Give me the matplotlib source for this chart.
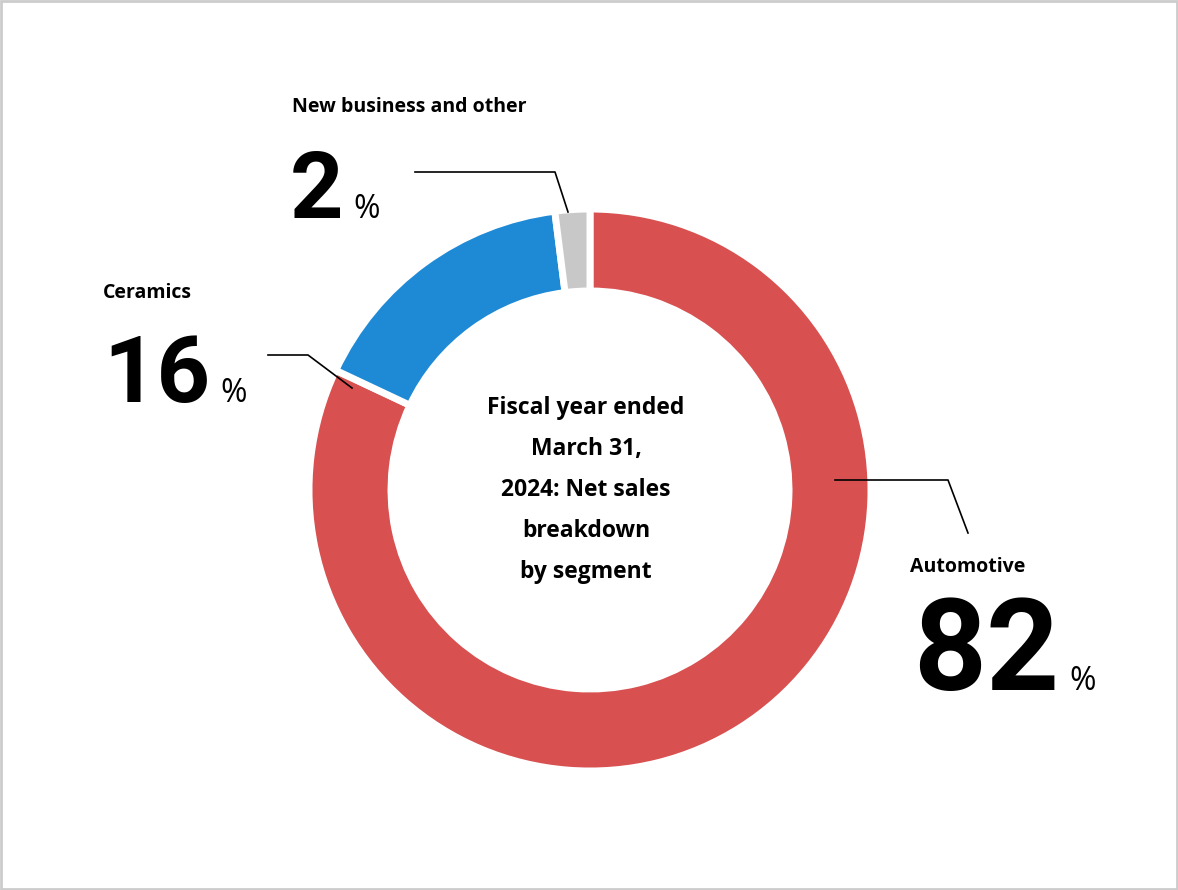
import matplotlib
matplotlib.use("Agg")
import matplotlib.pyplot as plt
from matplotlib.patches import Rectangle

segments = ["Automotive", "Ceramics", "New business and other"]
shares = [82, 16, 2]
colors = ["#d85050", "#1e8ad6", "#c8c8c8"]

W, H = 1178, 890
fig = plt.figure(figsize=(W/100, H/100), dpi=100)
ax = fig.add_axes([0, 0, 1, 1])
ax.set_xlim(0, W); ax.set_ylim(0, H); ax.set_aspect("equal"); ax.axis("off")
Y = lambda y: H - y

ax.pie(shares, colors=colors, startangle=90, counterclock=False, center=(590, Y(490)),
       radius=281, wedgeprops=dict(width=82, edgecolor="white", linewidth=5))
ax.set_xlim(0, W); ax.set_ylim(0, H)
ax.add_patch(Rectangle((1, 1), W-2, H-2, fill=False, edgecolor="#cccccc", lw=2))

fam = ["Open Sans", "DejaVu Sans"]
ax.text(586, Y(490), "Fiscal year ended\nMarch 31,\n2024: Net sales\nbreakdown\nby segment",
        ha="center", va="center", fontsize=16.5, fontweight="bold", family=fam, linespacing=1.95)

lines = [[(835, 480), (948, 480), (968, 533)],
         [(268, 355), (308, 355), (352, 388)],
         [(415, 172), (555, 172), (568, 212)]]
for pts in lines:
    ax.plot([p[0] for p in pts], [Y(p[1]) for p in pts], color="black", lw=1.2)

labels = [(segments[0], shares[0], 910, 567, 913, 690, 112),
          (segments[1], shares[1], 103, 293, 103, 402, 82),
          (segments[2], shares[2], 292, 107, 290, 218, 82)]
for name, val, lx, ly, nx, ny, fs in labels:
    ax.text(lx, Y(ly), name, ha="left", va="center", fontsize=14, fontweight="bold", family=fam)
    t = ax.text(nx, Y(ny), str(val), ha="left", va="baseline", fontsize=fs*0.82,
                fontweight="bold", family="Roboto")
    fig.canvas.draw()
    bb = t.get_window_extent()
    ax.text(bb.x1 + 10, Y(ny), "%", ha="left", va="baseline", fontsize=23, family=fam)

fig.savefig("out.png", dpi=100)
